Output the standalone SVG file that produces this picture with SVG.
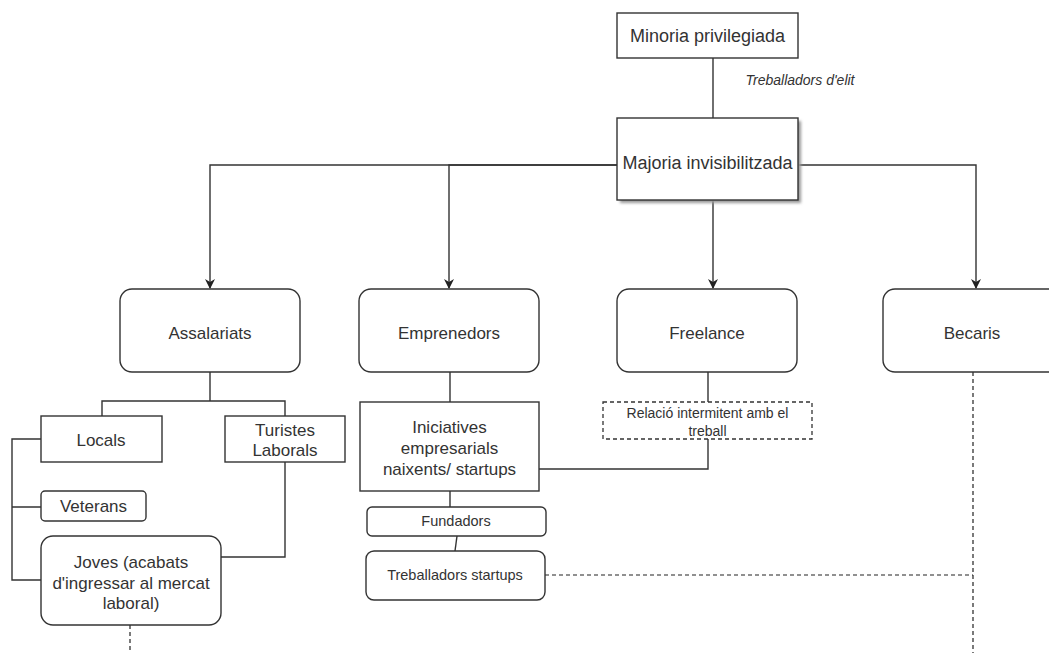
<svg xmlns="http://www.w3.org/2000/svg" width="1049" height="653" viewBox="0 0 1049 653">
<defs>
<marker id="arr" viewBox="0 0 10 10" refX="9" refY="5" markerWidth="10" markerHeight="10" markerUnits="userSpaceOnUse" orient="auto">
<path d="M0,0 L10,5 L0,10 L3,5 Z" fill="#222"/>
</marker>
<filter id="sh" x="-10%" y="-10%" width="130%" height="130%">
<feGaussianBlur stdDeviation="1.5"/>
</filter>
</defs>
<style>
.box{fill:#fff;stroke:#333;stroke-width:1.4}
.dbox{fill:#fff;stroke:#333;stroke-width:1.3;stroke-dasharray:4 3}
.ln{fill:none;stroke:#333;stroke-width:1.4}
.dl{fill:none;stroke:#222;stroke-width:1.2;stroke-dasharray:4 3}
text{font-family:"Liberation Sans",Arial,sans-serif;fill:#333;text-anchor:middle;dominant-baseline:central}
.l{font-size:17px}
.xl{font-size:18px}
.s{font-size:14.5px}
.xs{font-size:14px}
</style>
<rect width="1049" height="653" fill="#fff"/>
<g id="connectors">
<path class="ln" d="M713,58 V118"/>
<path class="ln" d="M617,165 H210 V288" marker-end="url(#arr)"/>
<path class="ln" d="M617,165 H449 V288" marker-end="url(#arr)"/>
<path class="ln" d="M713,200 V288" marker-end="url(#arr)"/>
<path class="ln" d="M798,165 H976 V288" marker-end="url(#arr)"/>
<path class="ln" d="M210,372 V401 M102,416 V401 H285 V416"/>
<path class="ln" d="M41,439 H12 V580 H41 M12,507 H41"/>
<path class="ln" d="M285,462 V557 H221"/>
<path class="dl" d="M130,625 V653"/>
<path class="ln" d="M450,372 V402"/>
<path class="ln" d="M450,491 V507"/>
<path class="ln" d="M457,536 L455,551"/>
<path class="ln" d="M708,372 V402"/>
<path class="ln" d="M708,439 V469 H539"/>
<path class="dl" d="M545,575 H973"/>
<path class="dl" d="M973,372 V653"/>
</g>
<g id="minoria">
<rect class="box" x="617" y="13" width="181" height="45"/>
<text class="xl" x="707.5" y="36">Minoria privilegiada</text>
</g>
<g id="elit">
<text class="xs" x="800" y="80" font-style="italic">Treballadors d'elit</text>
</g>
<g id="majoria">
<rect x="620" y="121" width="181" height="82" fill="#999" filter="url(#sh)"/>
<rect class="box" x="617" y="118" width="181" height="82"/>
<text class="xl" x="707.5" y="163">Majoria invisibilitzada</text>
</g>
<g id="assalariats">
<rect class="box" x="120" y="289" width="180" height="83" rx="12"/>
<text class="l" x="210" y="333">Assalariats</text>
</g>
<g id="emprenedors">
<rect class="box" x="359" y="289" width="180" height="83" rx="12"/>
<text class="l" x="449" y="333">Emprenedors</text>
</g>
<g id="freelance">
<rect class="box" x="617" y="289" width="180" height="83" rx="12"/>
<text class="l" x="707" y="333">Freelance</text>
</g>
<g id="becaris">
<rect class="box" x="883" y="289" width="180" height="83" rx="12"/>
<text class="l" x="972" y="333">Becaris</text>
</g>
<g id="locals">
<rect class="box" x="41" y="416" width="121" height="46"/>
<text class="l" x="101" y="440">Locals</text>
</g>
<g id="turistes">
<rect class="box" x="225" y="416" width="120" height="46"/>
<text class="l" x="285" y="430">Turistes</text>
<text class="l" x="285" y="450">Laborals</text>
</g>
<g id="veterans">
<rect class="box" x="41" y="491" width="105" height="30" rx="4"/>
<text class="l" x="93.5" y="506">Veterans</text>
</g>
<g id="joves">
<rect class="box" x="41" y="536" width="180" height="89" rx="12"/>
<text class="l" x="131" y="562">Joves (acabats</text>
<text class="l" x="131" y="583">d'ingressar al mercat</text>
<text class="l" x="131" y="603">laboral)</text>
</g>
<g id="iniciatives">
<rect class="box" x="360" y="402" width="179" height="89"/>
<text class="l" x="449.5" y="427">Iniciatives</text>
<text class="l" x="449.5" y="448">empresarials</text>
<text class="l" x="449.5" y="469">naixents/ startups</text>
</g>
<g id="relacio">
<rect class="dbox" x="603" y="402" width="209" height="37"/>
<text class="xs" x="707.5" y="413">Relació intermitent amb el</text>
<text class="xs" x="707.5" y="431">treball</text>
</g>
<g id="fundadors">
<rect class="box" x="367" y="507" width="179" height="29" rx="5"/>
<text class="s" x="456" y="521">Fundadors</text>
</g>
<g id="treballadors-startups">
<rect class="box" x="366" y="551" width="179" height="49" rx="8"/>
<text class="s" x="455" y="575">Treballadors startups</text>
</g>
</svg>
